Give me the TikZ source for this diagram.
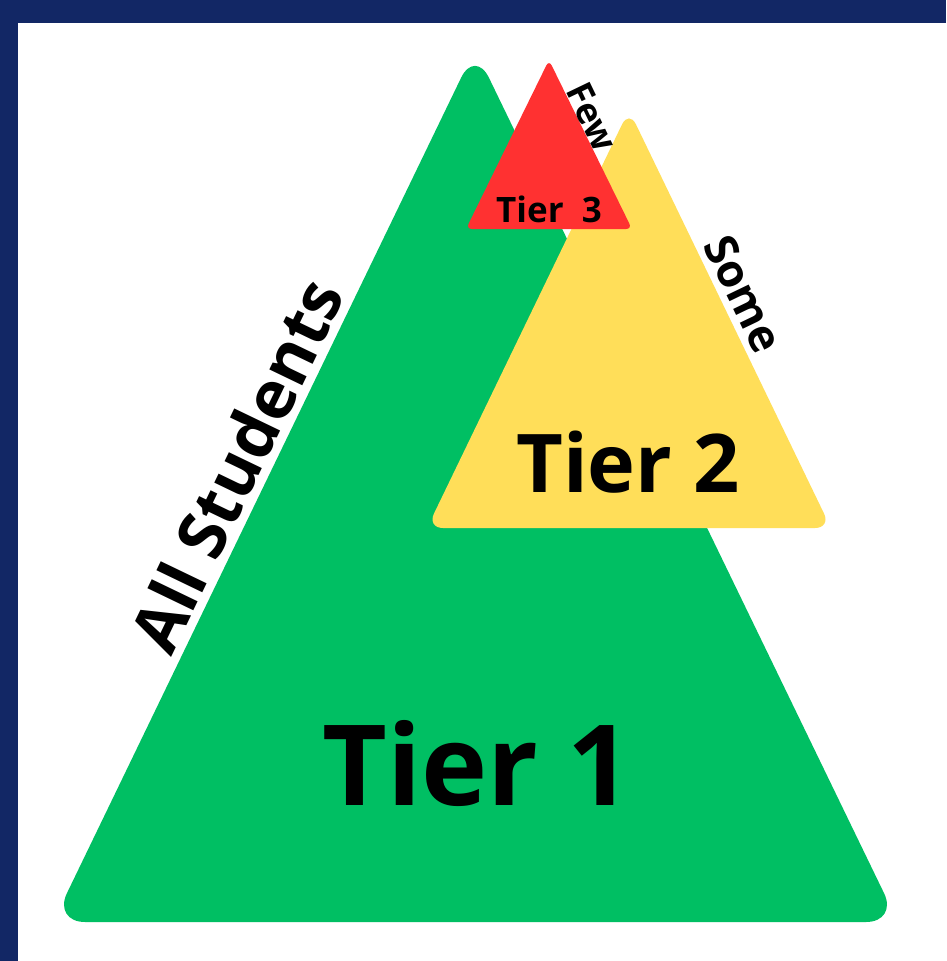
\documentclass[tikz,border=0pt]{standalone}
\usepackage{fontspec}
\setmainfont{Open Sans}
\definecolor{navy}{HTML}{122765}
\definecolor{tgreen}{HTML}{00BF63}
\definecolor{tyellow}{HTML}{FFDE59}
\definecolor{tred}{HTML}{FF3131}
\tikzset{tier/.style={text=black, inner sep=0pt, anchor=base}}
\begin{document}
\begin{tikzpicture}[x=1pt,y=-1pt]
\fill[navy] (0,0) rectangle (946,961);
\useasboundingbox (0,0) rectangle (946,961);
\fill[white] (18,23) rectangle (946,961);
% triangle corners
\coordinate (G0) at (475,922); \coordinate (G1) at (53,922); \coordinate (G2) at (898,922); \coordinate (G3) at (475,49);
\coordinate (Y0) at (629,528); \coordinate (Y1) at (427,528); \coordinate (Y2) at (831,528); \coordinate (Y3) at (629,110);
\coordinate (R0) at (549,229); \coordinate (R1) at (466,229); \coordinate (R2) at (632,229); \coordinate (R3) at (549,60);
\fill[tgreen, rounded corners=32] (G0) -- (G2) -- (G3) -- (G1) -- cycle;
\fill[tyellow, rounded corners=16] (Y0) -- (Y2) -- (Y3) -- (Y1) -- cycle;
\fill[tred, rounded corners=6] (R0) -- (R2) -- (R3) -- (R1) -- cycle;
\node[tier, font=\fontsize{112}{112}\selectfont\bfseries] (T1) at (477,805) {Tier 1};
\node[tier, font=\fontsize{81}{81}\selectfont\bfseries] (T2) at (628,492) {Tier 2};
\node[tier, font=\fontsize{35}{35}\selectfont\bfseries] (T3) at (549,222) {Tier\ \ 3};
\node[tier, rotate=64.3, font=\fontsize{67}{67}\selectfont\bfseries] (all) at (259,476) {All Students};
\node[text=black, inner sep=0pt, rotate=-64.3, font=\fontsize{45}{45}\selectfont\bfseries] (some) at (744,294) {Some};
\node[text=black, inner sep=0pt, rotate=-64.3, font=\fontsize{36}{36}\selectfont\bfseries] (few) at (592,117) {Few};
\end{tikzpicture}
\end{document}
